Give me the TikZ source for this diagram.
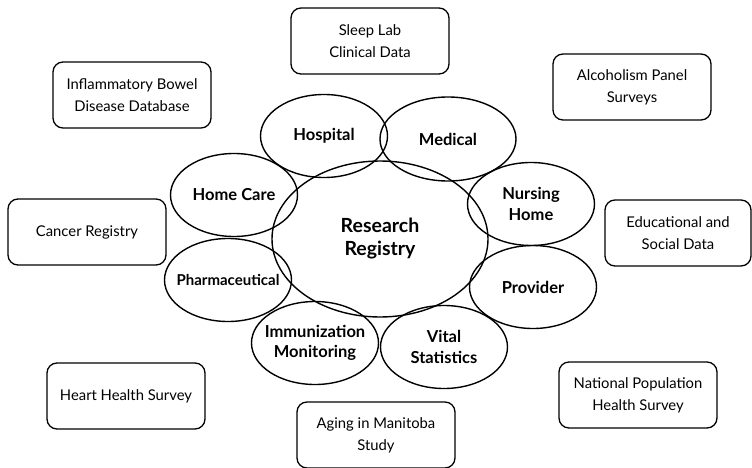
\documentclass[tikz,border=0pt]{standalone}
\usepackage{fontspec}
\setmainfont{Lato}
\usepackage{tikz}
\usetikzlibrary{shapes.geometric}
\tikzstyle{source} = [rectangle, rounded corners=10pt, draw, line width=1.3pt, minimum width=158pt, minimum height=66pt, align=center, font=\fontsize{14.8}{22}\selectfont]
\tikzstyle{sector} = [ellipse, draw, line width=1.4pt, minimum width=127pt, minimum height=83pt, inner sep=-25pt, align=center, font=\fontsize{16.5}{20.5}\selectfont\bfseries]

\begin{document}
\begin{tikzpicture}[x=1pt,y=-1pt]
  \useasboundingbox (0,0) rectangle (752,468);
  % centre
  \node[sector, minimum width=216pt, minimum height=156pt, font=\fontsize{19.5}{23}\selectfont\bfseries] (Registry) at (380,239) {Research\\Registry};
  \node[sector] (Hospital) at (324,136) {Hospital};
  \node[sector, minimum width=136pt, minimum height=84pt] (Medical) at (448,139) {Medical};
  \node[sector] (Nursing_Home) at (531,204) {Nursing\\Home};
  \node[sector] (Home_Care) at (234,195) {Home Care};
  \node[sector, font=\fontsize{15}{18}\selectfont\bfseries] (Pharma) at (228,280) {Pharmaceutical};
  \node[sector] (Provider) at (533,287) {Provider};
  \node[sector] (Immunization) at (315,343) {Immunization\\Monitoring};
  \node[sector] (Vital) at (444,347) {Vital\\Statistics};

  % outer sources
  \node[source] (Sleep_Lab) at (370,41) {Sleep Lab\\Clinical Data};
  \node[source] (IBD) at (132,95) {Inflammatory Bowel\\Disease Database};
  \node[source] (Alcoholism) at (632,87) {Alcoholism Panel\\Surveys};
  \node[source] (Cancer) at (87,232) {Cancer Registry};
  \node[source, minimum width=146pt] (Education) at (678,233) {Educational and\\Social Data};
  \node[source] (Heart) at (126,396) {Heart Health Survey};
  \node[source] (Aging) at (376,435) {Aging in Manitoba\\Study};
  \node[source] (Population) at (638,395) {National Population\\Health Survey};
\end{tikzpicture}
\end{document}
